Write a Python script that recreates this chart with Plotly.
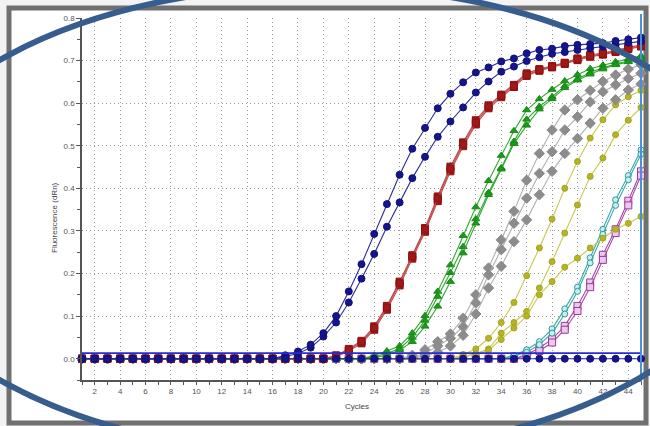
import plotly.graph_objects as go

cycles = list(range(1, 46))
x_tick_vals = list(range(2, 46, 2))
x_tick_text = [str(v) for v in x_tick_vals]
y_tick_vals = [0.0, 0.1, 0.2, 0.3, 0.4, 0.5, 0.6, 0.7, 0.8]
y_tick_text = ["0.0", "0.1", "0.2", "0.3", "0.4", "0.5", "0.6", "0.7", "0.8"]
threshold = 0.013

navy_a = [0.0, 0.0, 0.0, 0.0, 0.0, 0.0, 0.0, 0.0, 0.0, 0.0, 0.0, 0.0, 0.0, 0.0, 0.0, 0.0,
          0.008, 0.017, 0.033, 0.060, 0.100, 0.158, 0.222, 0.293, 0.363, 0.432, 0.493, 0.542, 0.588,
          0.622, 0.649, 0.672, 0.684, 0.698, 0.705, 0.717, 0.725, 0.728, 0.734, 0.737, 0.739, 0.741,
          0.746, 0.750, 0.754]
navy_b = [0.0, 0.0, 0.0, 0.0, 0.0, 0.0, 0.0, 0.0, 0.0, 0.0, 0.0, 0.0, 0.0, 0.0, 0.0, 0.0,
          0.005, 0.012, 0.026, 0.052, 0.085, 0.132, 0.188, 0.246, 0.310, 0.367, 0.424, 0.474, 0.521,
          0.557, 0.590, 0.625, 0.651, 0.674, 0.686, 0.699, 0.708, 0.716, 0.720, 0.725, 0.729, 0.733,
          0.737, 0.742, 0.745]
red_1 = [0.0, 0.0, 0.0, 0.0, 0.0, 0.0, 0.0, 0.0, 0.0, 0.0, 0.0, 0.0, 0.0, 0.0, 0.0, 0.0, 0.0, 0.0, 0.0, 0.0,
         0.008, 0.023, 0.042, 0.076, 0.124, 0.181, 0.243, 0.307, 0.381, 0.451, 0.508, 0.560, 0.595,
         0.620, 0.643, 0.670, 0.680, 0.687, 0.695, 0.705, 0.713, 0.718, 0.724, 0.731, 0.737]
red_2 = [0.0, 0.0, 0.0, 0.0, 0.0, 0.0, 0.0, 0.0, 0.0, 0.0, 0.0, 0.0, 0.0, 0.0, 0.0, 0.0, 0.0, 0.0, 0.0, 0.0,
         0.005, 0.018, 0.036, 0.068, 0.115, 0.172, 0.235, 0.298, 0.370, 0.440, 0.499, 0.550, 0.588,
         0.614, 0.638, 0.664, 0.676, 0.684, 0.692, 0.701, 0.709, 0.714, 0.720, 0.727, 0.733]
red_3 = [0.0, 0.0, 0.0, 0.0, 0.0, 0.0, 0.0, 0.0, 0.0, 0.0, 0.0, 0.0, 0.0, 0.0, 0.0, 0.0, 0.0, 0.0, 0.0, 0.0,
         0.006, 0.020, 0.040, 0.072, 0.120, 0.177, 0.240, 0.303, 0.376, 0.446, 0.504, 0.555, 0.592,
         0.617, 0.640, 0.667, 0.678, 0.686, 0.694, 0.703, 0.711, 0.716, 0.722, 0.729, 0.735]
green_1 = [0.0, 0.0, 0.0, 0.0, 0.0, 0.0, 0.0, 0.0, 0.0, 0.0, 0.0, 0.0, 0.0, 0.0, 0.0, 0.0, 0.0, 0.0, 0.0, 0.0,
           0.0, 0.0, 0.0,
           0.008, 0.018, 0.030, 0.060, 0.101, 0.158, 0.220, 0.289, 0.356, 0.418, 0.477, 0.535, 0.584,
           0.610, 0.632, 0.652, 0.667, 0.681, 0.689, 0.697, 0.704, 0.711]
green_2 = [0.0, 0.0, 0.0, 0.0, 0.0, 0.0, 0.0, 0.0, 0.0, 0.0, 0.0, 0.0, 0.0, 0.0, 0.0, 0.0, 0.0, 0.0, 0.0, 0.0,
           0.0, 0.0, 0.0,
           0.005, 0.012, 0.024, 0.050, 0.090, 0.146, 0.202, 0.263, 0.328, 0.390, 0.448, 0.510, 0.562,
           0.592, 0.615, 0.640, 0.657, 0.672, 0.683, 0.692, 0.699, 0.706]
green_3 = [0.0, 0.0, 0.0, 0.0, 0.0, 0.0, 0.0, 0.0, 0.0, 0.0, 0.0, 0.0, 0.0, 0.0, 0.0, 0.0, 0.0, 0.0, 0.0, 0.0,
           0.0, 0.0, 0.0,
           0.003, 0.008, 0.020, 0.040, 0.076, 0.123, 0.181, 0.248, 0.318, 0.385, 0.445, 0.505, 0.548,
           0.586, 0.610, 0.636, 0.654, 0.668, 0.680, 0.690, 0.697, 0.704]
gray_1 = [0.0, 0.0, 0.0, 0.0, 0.0, 0.0, 0.0, 0.0, 0.0, 0.0, 0.0, 0.0, 0.0, 0.0, 0.0, 0.0, 0.0, 0.0, 0.0, 0.0,
          0.0, 0.0, 0.0, 0.0, 0.0, 0.0,
          0.008, 0.021, 0.040, 0.058, 0.095, 0.150, 0.213, 0.279, 0.346, 0.419, 0.482, 0.537, 0.584,
          0.608, 0.630, 0.651, 0.666, 0.680, 0.690]
gray_2 = [0.0, 0.0, 0.0, 0.0, 0.0, 0.0, 0.0, 0.0, 0.0, 0.0, 0.0, 0.0, 0.0, 0.0, 0.0, 0.0, 0.0, 0.0, 0.0, 0.0,
          0.0, 0.0, 0.0, 0.0, 0.0, 0.0,
          0.004, 0.012, 0.030, 0.048, 0.075, 0.131, 0.197, 0.256, 0.318, 0.377, 0.435, 0.486, 0.537,
          0.568, 0.603, 0.627, 0.643, 0.658, 0.670]
gray_3 = [0.0, 0.0, 0.0, 0.0, 0.0, 0.0, 0.0, 0.0, 0.0, 0.0, 0.0, 0.0, 0.0, 0.0, 0.0, 0.0, 0.0, 0.0, 0.0, 0.0,
          0.0, 0.0, 0.0, 0.0, 0.0, 0.0,
          0.002, 0.006, 0.015, 0.030, 0.055, 0.105, 0.166, 0.217, 0.275, 0.326, 0.385, 0.440, 0.482,
          0.517, 0.553, 0.588, 0.608, 0.631, 0.645]
olive_1 = [0.0, 0.0, 0.0, 0.0, 0.0, 0.0, 0.0, 0.0, 0.0, 0.0, 0.0, 0.0, 0.0, 0.0, 0.0, 0.0, 0.0, 0.0, 0.0, 0.0,
           0.0, 0.0, 0.0, 0.0, 0.0, 0.0, 0.0, 0.0, 0.0, 0.0,
           0.010, 0.023, 0.048, 0.085, 0.132, 0.195, 0.260, 0.328, 0.400, 0.463, 0.518, 0.561, 0.596,
           0.615, 0.630]
olive_2 = [0.0, 0.0, 0.0, 0.0, 0.0, 0.0, 0.0, 0.0, 0.0, 0.0, 0.0, 0.0, 0.0, 0.0, 0.0, 0.0, 0.0, 0.0, 0.0, 0.0,
           0.0, 0.0, 0.0, 0.0, 0.0, 0.0, 0.0, 0.0, 0.0, 0.0,
           0.005, 0.012, 0.023, 0.060, 0.085, 0.111, 0.166, 0.228, 0.295, 0.361, 0.428, 0.471, 0.526,
           0.560, 0.590]
olive_3 = [0.0, 0.0, 0.0, 0.0, 0.0, 0.0, 0.0, 0.0, 0.0, 0.0, 0.0, 0.0, 0.0, 0.0, 0.0, 0.0, 0.0, 0.0, 0.0, 0.0,
           0.0, 0.0, 0.0, 0.0, 0.0, 0.0, 0.0, 0.0, 0.0, 0.0,
           0.004, 0.010, 0.020, 0.045, 0.072, 0.100, 0.150, 0.181, 0.215, 0.236, 0.260, 0.283, 0.304,
           0.318, 0.334]
teal_1 = [0.0, 0.0, 0.0, 0.0, 0.0, 0.0, 0.0, 0.0, 0.0, 0.0, 0.0, 0.0, 0.0, 0.0, 0.0, 0.0, 0.0, 0.0, 0.0, 0.0,
          0.0, 0.0, 0.0, 0.0, 0.0, 0.0, 0.0, 0.0, 0.0, 0.0, 0.0, 0.0, 0.0, 0.0,
          0.008, 0.021, 0.040, 0.070, 0.117, 0.168, 0.237, 0.304, 0.373, 0.430, 0.490]
teal_2 = [0.0, 0.0, 0.0, 0.0, 0.0, 0.0, 0.0, 0.0, 0.0, 0.0, 0.0, 0.0, 0.0, 0.0, 0.0, 0.0, 0.0, 0.0, 0.0, 0.0,
          0.0, 0.0, 0.0, 0.0, 0.0, 0.0, 0.0, 0.0, 0.0, 0.0, 0.0, 0.0, 0.0, 0.0,
          0.006, 0.015, 0.033, 0.060, 0.105, 0.158, 0.225, 0.292, 0.360, 0.420, 0.480]
purple_1 = [0.0, 0.0, 0.0, 0.0, 0.0, 0.0, 0.0, 0.0, 0.0, 0.0, 0.0, 0.0, 0.0, 0.0, 0.0, 0.0, 0.0, 0.0, 0.0, 0.0,
            0.0, 0.0, 0.0, 0.0, 0.0, 0.0, 0.0, 0.0, 0.0, 0.0, 0.0, 0.0, 0.0, 0.0, 0.0,
            0.010, 0.025, 0.046, 0.077, 0.124, 0.179, 0.244, 0.304, 0.371, 0.440]
purple_2 = [0.0, 0.0, 0.0, 0.0, 0.0, 0.0, 0.0, 0.0, 0.0, 0.0, 0.0, 0.0, 0.0, 0.0, 0.0, 0.0, 0.0, 0.0, 0.0, 0.0,
            0.0, 0.0, 0.0, 0.0, 0.0, 0.0, 0.0, 0.0, 0.0, 0.0, 0.0, 0.0, 0.0, 0.0, 0.0,
            0.007, 0.018, 0.038, 0.068, 0.112, 0.168, 0.232, 0.295, 0.360, 0.430]
ntc = [0.0, 0.0, 0.0, 0.0, 0.0, 0.0, 0.0, 0.0, 0.0, 0.0, 0.0, 0.0, 0.0, 0.0, 0.0, 0.0, 0.0, 0.0, 0.0, 0.0,
       0.0, 0.0, 0.0, 0.0, 0.0, 0.0, 0.0, 0.0, 0.0, 0.0, 0.0, 0.0, 0.0, 0.0, 0.0, 0.0, 0.0, 0.0, 0.0, 0.0,
       0.0, 0.0, 0.0, 0.0, 0.0]

# style per group: (series, line colour, marker symbol, marker fill, marker border, size)
groups = [
    ([purple_1, purple_2], "#a848a8", "square", "#ecc8ec", "#9a3a9a", 7),
    ([teal_1, teal_2], "#38a8a8", "circle", "#c8eeee", "#2a9a9a", 6),
    ([olive_1, olive_2, olive_3], "#c8c850", "circle", "#b4b424", "#a4a41c", 6),
    ([gray_1, gray_2, gray_3], "#b0b0b0", "diamond", "#8c8c8c", "#8c8c8c", 8),
    ([green_1, green_2, green_3], "#30a830", "triangle-up", "#1a9a1a", "#168a16", 7),
    ([red_1, red_2, red_3], "#c04a4a", "square", "#a01818", "#901010", 7),
    ([navy_b, navy_a], "#2a2a9a", "circle", "#14148c", "#10107a", 7),
]

fig = go.Figure()
for series_list, lcol, sym, fill, border, size in groups:
    for ys in series_list:
        fig.add_trace(go.Scatter(
            x=cycles, y=ys, mode="lines+markers",
            line=dict(color=lcol, width=1.1),
            marker=dict(symbol=sym, size=size, color=fill, line=dict(color=border, width=1)),
            cliponaxis=False, showlegend=False, hoverinfo="skip"))

fig.add_trace(go.Scatter(
    x=cycles, y=ntc, mode="lines+markers",
    line=dict(color="#2a2a9a", width=1.1),
    marker=dict(symbol="circle", size=7, color="#14148c", line=dict(color="#10107a", width=1)),
    cliponaxis=False, showlegend=False, hoverinfo="skip"))

# threshold line
fig.add_trace(go.Scatter(
    x=[cycles[0], cycles[-1]], y=[threshold, threshold], mode="lines",
    line=dict(color="#2b2bd0", width=1.6), showlegend=False, hoverinfo="skip"))

W, H = 650, 426
L, R, T, B = 82, 9, 18, 46
pw, ph = W - L - R, H - T - B


def px(xp):
    return (xp - L) / pw


def py(yp):
    return (H - B - yp) / ph


ecx, ecy, ea, eb = 318, 220, 436, 234

shapes = [
    # screenshot frame
    dict(type="rect", xref="paper", yref="paper", x0=px(9), x1=px(646), y0=py(423), y1=py(8),
         line=dict(color="#707070", width=5), fillcolor="white", layer="below"),
    # right vertical marker line
    dict(type="line", xref="paper", yref="paper", x0=1, x1=1, y0=py(382), y1=py(14),
         line=dict(color="#4a90d9", width=2)),
    # overlay ellipse
    dict(type="circle", xref="paper", yref="paper",
         x0=px(ecx - ea), x1=px(ecx + ea), y0=py(ecy + eb), y1=py(ecy - eb),
         line=dict(color="#365d8e", width=6)),
]

fig.update_layout(
    width=W, height=H,
    margin=dict(l=L, r=R, t=T, b=B),
    paper_bgcolor="#f3f3f3",
    plot_bgcolor="white",
    shapes=shapes,
    font=dict(family="Liberation Sans, Arial, sans-serif", size=8, color="#555555"),
    annotations=[
        dict(text="Fluorescence (dRn)", xref="paper", yref="paper", x=px(55), y=py(218),
             xanchor="center", yanchor="middle",
             textangle=-90, showarrow=False, font=dict(size=8, color="#444444")),
        dict(text="Cycles", xref="paper", yref="paper", x=px(357), y=py(406),
             xanchor="center", yanchor="middle",
             showarrow=False, font=dict(size=8, color="#444444")),
    ],
)

fig.update_xaxes(
    range=[1, 45], tickvals=x_tick_vals, ticktext=x_tick_text,
    showgrid=True, gridcolor="#9a9a9a", griddash="1px,3px", gridwidth=1,
    showline=True, linecolor="#555555", linewidth=1.5,
    ticks="outside", ticklen=3, tickcolor="#555555",
    minor=dict(dtick=1, tick0=1, ticks="outside", ticklen=3, tickcolor="#555555", showgrid=False),
    zeroline=False, tickfont=dict(size=8, color="#555555"),
)
fig.update_yaxes(
    range=[-0.05, 0.8], tickvals=y_tick_vals, ticktext=y_tick_text,
    showgrid=True, gridcolor="#9a9a9a", griddash="1px,3px", gridwidth=1,
    showline=True, linecolor="#555555", linewidth=1.5,
    ticks="outside", ticklen=4, tickcolor="#555555",
    minor=dict(dtick=0.05, tick0=0, ticks="outside", ticklen=3, tickcolor="#555555", showgrid=False),
    zeroline=False, tickfont=dict(size=8, color="#555555"),
)

fig.write_html(
    "out.html",
    config={"displayModeBar": False},
    post_script="document.body.style.margin='0';document.body.style.overflow='hidden';"
                "document.documentElement.style.overflow='hidden';",
)
